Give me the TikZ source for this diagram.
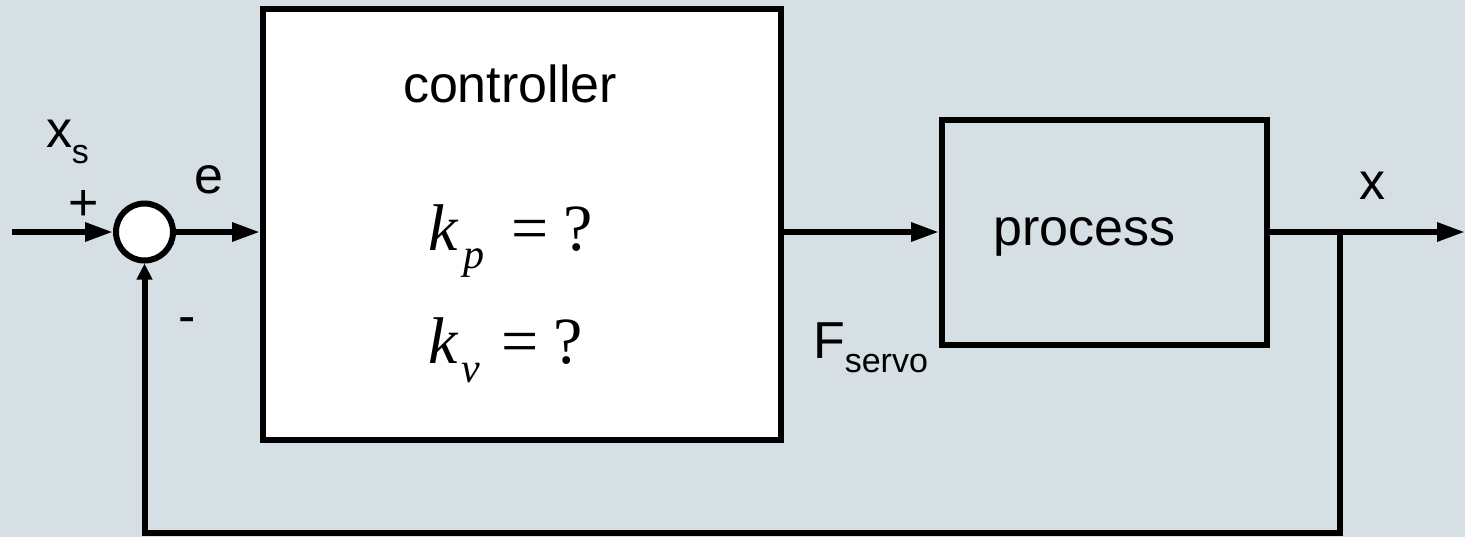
\documentclass[tikz,border=0pt]{standalone}
\usepackage{fontspec}
\setmainfont{Liberation Sans}
\newfontfamily\tms{Liberation Serif}
\usetikzlibrary{arrows.meta}
\definecolor{bgc}{RGB}{213,223,228}
\tikzset{
  blk/.style={draw=black, line width=3pt, rectangle, inner sep=0pt},
  conn/.style={draw=black, line width=3pt},
  arr/.style={conn, -{Triangle[length=14pt,width=9pt]}},
  arrs/.style={conn, -{Triangle[length=8pt,width=7.5pt]}},
  lbl/.style={inner sep=0pt, outer sep=0pt, font=\fontsize{26}{30}\selectfont},
  mth/.style={inner sep=0pt, outer sep=0pt, anchor=base west, font=\fontsize{33}{38}\selectfont\tms},
  mths/.style={inner sep=0pt, outer sep=0pt, anchor=base west, font=\fontsize{21}{24}\selectfont\tms\itshape},
}
\begin{document}
\begin{tikzpicture}[x=0.5pt, y=-0.5pt]
  \fill[bgc] (0,0) rectangle (1465,537);
  \useasboundingbox (0,0) rectangle (1465,537);

  % blocks
  \node[blk, fill=white, minimum width=259pt, minimum height=215.5pt] (ctrl) at (522,224.5) {};
  \node[blk, minimum width=162.5pt, minimum height=112.5pt] (proc) at (1104.5,232.5) {};

  % coordinates
  \coordinate (in) at (12,232);
  \coordinate (out) at (1465,232);
  \coordinate (br) at (1340,232);
  \coordinate (fbc) at (1340,533);

  % connectors
  \draw[arr] (ctrl.east |- in) -- (proc.west |- in);
  \draw[arr] (proc.east |- in) -- (out);
  \draw[conn] (br) -- (fbc) -- (144.5,533) -- (144.5,300);

  % summing junction
  \node[draw=black, line width=3pt, circle, fill=white, minimum size=28.5pt, inner sep=0pt] (sum) at (144.5,232) {};
  \draw[arr] (in) -- (sum.west);
  \draw[arr] (sum.east) -- (ctrl.west |- sum.east);
  \draw[arrs] (144.5,300) -- (sum.south);

  % labels
  \node[lbl, anchor=base] (lctrl) at (510,102) {controller};
  \node[lbl, anchor=base] (lproc) at (1084.5,245) {process};
  \node[lbl, anchor=base] (lx) at (1372.5,199) {x};
  \node[lbl, anchor=base] (le) at (208.5,193) {e};
  \node[lbl, anchor=base] (lplus) at (83.5,220) {+};
  \node[lbl, anchor=base] (lminus) at (187,333.5) {-};
  \node[lbl, anchor=base west] (lxs) at (46,147) {x\raisebox{-8pt}{\fontsize{17}{20}\selectfont s}};
  \node[lbl, anchor=base west] (lF) at (813,358) {F\raisebox{-7pt}{\fontsize{17}{20}\selectfont servo}};

  % controller parameters
  \node[mth] (kp) at (428,250) {\itshape k};
  \node[mths] (kpsub) at (463,268) {p};
  \node[mth] (kpeq) at (511,250) {=};
  \node[mth] (kpq) at (563,250) {?};
  \node[mth] (kv) at (428,363) {\itshape k};
  \node[mths] (kvsub) at (461,382) {v};
  \node[mth] (kveq) at (501,363) {=};
  \node[mth] (kvq) at (553,363) {?};
\end{tikzpicture}
\end{document}
